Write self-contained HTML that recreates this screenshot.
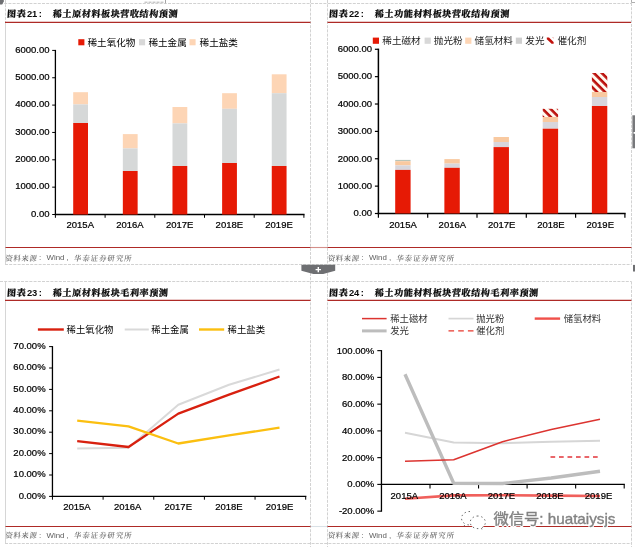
<!DOCTYPE html>
<html lang="zh"><head><meta charset="utf-8"><title>图表</title>
<style>html,body{margin:0;padding:0;background:#fff}svg{display:block}text{white-space:pre}</style></head>
<body>
<svg width="635" height="547" viewBox="0 0 635 547">
<defs><pattern id="hatch" width="5.6" height="5.6" patternUnits="userSpaceOnUse" patternTransform="rotate(45)"><rect width="5.6" height="5.6" fill="#fffaf0"/><rect width="5.6" height="2.6" fill="#bb100c"/></pattern></defs>
<rect x="0.00" y="0.00" width="635.00" height="547.00" fill="#fff" />
<line x1="5.50" y1="0.00" x2="5.50" y2="22.00" stroke="#d2d2d2" stroke-width="1" stroke-dasharray="3 1.2"/>
<line x1="5.50" y1="22.00" x2="5.50" y2="264.50" stroke="#d6d6d6" stroke-width="1" />
<line x1="5.50" y1="281.00" x2="5.50" y2="543.00" stroke="#d6d6d6" stroke-width="1" />
<line x1="310.50" y1="0.00" x2="310.50" y2="547.00" stroke="#d2d2d2" stroke-width="1" stroke-dasharray="3 1.2"/>
<line x1="327.50" y1="0.00" x2="327.50" y2="547.00" stroke="#d2d2d2" stroke-width="1" stroke-dasharray="3 1.2"/>
<line x1="631.50" y1="3.00" x2="631.50" y2="264.50" stroke="#d2d2d2" stroke-width="1" stroke-dasharray="3 1.2"/>
<line x1="631.50" y1="281.50" x2="631.50" y2="547.00" stroke="#d2d2d2" stroke-width="1" stroke-dasharray="3 1.2"/>
<line x1="0.00" y1="3.50" x2="631.50" y2="3.50" stroke="#d2d2d2" stroke-width="1" stroke-dasharray="3 1.2"/>
<line x1="5.00" y1="264.50" x2="631.50" y2="264.50" stroke="#d2d2d2" stroke-width="1" stroke-dasharray="3 1.2"/>
<line x1="0.00" y1="281.50" x2="631.50" y2="281.50" stroke="#d2d2d2" stroke-width="1" stroke-dasharray="3 1.2"/>
<line x1="5.00" y1="543.50" x2="631.50" y2="543.50" stroke="#d2d2d2" stroke-width="1" stroke-dasharray="3 1.2"/>
<path d="M631.5 0v2.500h3.500" fill="none" stroke="#9a9a9a" stroke-width="0.8"/>
<line x1="144.50" y1="2.20" x2="164.00" y2="2.20" stroke="#a8a8a8" stroke-width="0.9" stroke-dasharray="3 1"/>
<line x1="165.50" y1="0.00" x2="165.50" y2="3.30" stroke="#9a9a9a" stroke-width="0.9" />
<line x1="310.50" y1="247.50" x2="327.50" y2="247.50" stroke="#d48f8a" stroke-width="1.1" />
<line x1="310.50" y1="526.50" x2="327.50" y2="526.50" stroke="#d9e1e6" stroke-width="1.1" />
<g font-weight="bold" fill="#0a0a0a" font-family='"Liberation Serif","Noto Serif CJK SC",serif'>
<g transform="translate(6.8,16.8) skewX(-4)"><text x="0" y="0" font-weight="900" font-size="9.1" letter-spacing="0.5" stroke="#0a0a0a" stroke-width="0.2">图表</text></g>
<text x="26.9" y="16.7" font-size="9.4" font-family='"Liberation Sans","Noto Sans CJK SC",sans-serif'>21</text>
<text x="38.7" y="16.7" font-size="9.4" font-family='"Liberation Sans","Noto Sans CJK SC",sans-serif'>:</text>
<g transform="translate(52.6,16.8) skewX(-4)"><text x="0" y="0" font-weight="900" font-size="9.1" letter-spacing="0.54" stroke="#0a0a0a" stroke-width="0.2">稀土原材料板块营收结构预测</text></g>
</g>
<line x1="5.00" y1="22.30" x2="310.50" y2="22.30" stroke="#ae2a26" stroke-width="1.3" />
<line x1="5.50" y1="247.50" x2="310.50" y2="247.50" stroke="#ae2a26" stroke-width="1.15" />
<g fill="#5c5c5c" font-family='"Liberation Serif","Noto Serif CJK SC",serif' font-size="7.5" font-weight="500">
<g transform="translate(5.0,260.5) skewX(-8)"><text x="0" y="0" letter-spacing="0.48">资料来源</text></g>
<text x="38.9" y="260.2" font-family='"Liberation Sans","Noto Sans CJK SC",sans-serif' font-size="8">:</text>
<text x="46.5" y="260.2" font-family='"Liberation Sans","Noto Sans CJK SC",sans-serif' font-size="7.9">Wind</text>
<text x="66.5" y="260.2" font-family='"Liberation Sans","Noto Sans CJK SC",sans-serif' font-size="8">,</text>
<g transform="translate(73.5,260.5) skewX(-8)"><text x="0" y="0" letter-spacing="0.9">华泰证券研究所</text></g>
</g>
<rect x="78.30" y="39.20" width="6.10" height="6.10" fill="#e61a05" />
<text x="87.50" y="46.00" font-size="9.6" text-anchor="start" fill="#000" font-family='"Liberation Sans","Noto Sans CJK SC",sans-serif' >稀土氧化物</text>
<rect x="139.00" y="39.20" width="6.10" height="6.10" fill="#d8d8d8" />
<text x="148.40" y="46.00" font-size="9.6" text-anchor="start" fill="#000" font-family='"Liberation Sans","Noto Sans CJK SC",sans-serif' >稀土金属</text>
<rect x="189.50" y="39.20" width="6.10" height="6.10" fill="#fdd5b5" />
<text x="199.60" y="46.00" font-size="9.6" text-anchor="start" fill="#000" font-family='"Liberation Sans","Noto Sans CJK SC",sans-serif' >稀土盐类</text>
<line x1="52.20" y1="214.50" x2="55.40" y2="214.50" stroke="#000" stroke-width="1.0" />
<text x="49.50" y="216.80" font-size="9.5" text-anchor="end" fill="#000" font-family='"Liberation Sans","Noto Sans CJK SC",sans-serif'  stroke="#000" stroke-width="0.22">0.00</text>
<line x1="52.20" y1="187.15" x2="55.40" y2="187.15" stroke="#000" stroke-width="1.0" />
<text x="49.50" y="189.45" font-size="9.5" text-anchor="end" fill="#000" font-family='"Liberation Sans","Noto Sans CJK SC",sans-serif'  stroke="#000" stroke-width="0.22">1000.00</text>
<line x1="52.20" y1="159.80" x2="55.40" y2="159.80" stroke="#000" stroke-width="1.0" />
<text x="49.50" y="162.10" font-size="9.5" text-anchor="end" fill="#000" font-family='"Liberation Sans","Noto Sans CJK SC",sans-serif'  stroke="#000" stroke-width="0.22">2000.00</text>
<line x1="52.20" y1="132.45" x2="55.40" y2="132.45" stroke="#000" stroke-width="1.0" />
<text x="49.50" y="134.75" font-size="9.5" text-anchor="end" fill="#000" font-family='"Liberation Sans","Noto Sans CJK SC",sans-serif'  stroke="#000" stroke-width="0.22">3000.00</text>
<line x1="52.20" y1="105.10" x2="55.40" y2="105.10" stroke="#000" stroke-width="1.0" />
<text x="49.50" y="107.40" font-size="9.5" text-anchor="end" fill="#000" font-family='"Liberation Sans","Noto Sans CJK SC",sans-serif'  stroke="#000" stroke-width="0.22">4000.00</text>
<line x1="52.20" y1="77.75" x2="55.40" y2="77.75" stroke="#000" stroke-width="1.0" />
<text x="49.50" y="80.05" font-size="9.5" text-anchor="end" fill="#000" font-family='"Liberation Sans","Noto Sans CJK SC",sans-serif'  stroke="#000" stroke-width="0.22">5000.00</text>
<line x1="52.20" y1="50.40" x2="55.40" y2="50.40" stroke="#000" stroke-width="1.0" />
<text x="49.50" y="52.70" font-size="9.5" text-anchor="end" fill="#000" font-family='"Liberation Sans","Noto Sans CJK SC",sans-serif'  stroke="#000" stroke-width="0.22">6000.00</text>
<line x1="55.40" y1="49.90" x2="55.40" y2="215.00" stroke="#000" stroke-width="1.3" />
<line x1="54.75" y1="214.50" x2="304.55" y2="214.50" stroke="#000" stroke-width="1.3" />
<line x1="55.40" y1="214.50" x2="55.40" y2="217.80" stroke="#000" stroke-width="1.0" />
<line x1="105.10" y1="214.50" x2="105.10" y2="217.80" stroke="#000" stroke-width="1.0" />
<line x1="154.80" y1="214.50" x2="154.80" y2="217.80" stroke="#000" stroke-width="1.0" />
<line x1="204.50" y1="214.50" x2="204.50" y2="217.80" stroke="#000" stroke-width="1.0" />
<line x1="254.20" y1="214.50" x2="254.20" y2="217.80" stroke="#000" stroke-width="1.0" />
<line x1="303.90" y1="214.50" x2="303.90" y2="217.80" stroke="#000" stroke-width="1.0" />
<text x="80.25" y="228.00" font-size="9.5" text-anchor="middle" fill="#000" font-family='"Liberation Sans","Noto Sans CJK SC",sans-serif'  stroke="#000" stroke-width="0.22">2015A</text>
<text x="129.95" y="228.00" font-size="9.5" text-anchor="middle" fill="#000" font-family='"Liberation Sans","Noto Sans CJK SC",sans-serif'  stroke="#000" stroke-width="0.22">2016A</text>
<text x="179.65" y="228.00" font-size="9.5" text-anchor="middle" fill="#000" font-family='"Liberation Sans","Noto Sans CJK SC",sans-serif'  stroke="#000" stroke-width="0.22">2017E</text>
<text x="229.35" y="228.00" font-size="9.5" text-anchor="middle" fill="#000" font-family='"Liberation Sans","Noto Sans CJK SC",sans-serif'  stroke="#000" stroke-width="0.22">2018E</text>
<text x="279.05" y="228.00" font-size="9.5" text-anchor="middle" fill="#000" font-family='"Liberation Sans","Noto Sans CJK SC",sans-serif'  stroke="#000" stroke-width="0.22">2019E</text>
<rect x="73.20" y="92.20" width="14.80" height="12.20" fill="#fdd5b5" />
<rect x="73.20" y="104.40" width="14.80" height="18.60" fill="#d6d8d8" />
<rect x="73.20" y="123.00" width="14.80" height="91.50" fill="#e61a05" />
<rect x="122.84" y="134.10" width="14.80" height="14.30" fill="#fdd5b5" />
<rect x="122.84" y="148.40" width="14.80" height="22.60" fill="#d6d8d8" />
<rect x="122.84" y="171.00" width="14.80" height="43.50" fill="#e61a05" />
<rect x="172.48" y="107.00" width="14.80" height="16.40" fill="#fdd5b5" />
<rect x="172.48" y="123.40" width="14.80" height="42.60" fill="#d6d8d8" />
<rect x="172.48" y="166.00" width="14.80" height="48.50" fill="#e61a05" />
<rect x="222.12" y="93.20" width="14.80" height="15.60" fill="#fdd5b5" />
<rect x="222.12" y="108.80" width="14.80" height="54.20" fill="#d6d8d8" />
<rect x="222.12" y="163.00" width="14.80" height="51.50" fill="#e61a05" />
<rect x="271.76" y="74.30" width="14.80" height="18.90" fill="#fdd5b5" />
<rect x="271.76" y="93.20" width="14.80" height="72.80" fill="#d6d8d8" />
<rect x="271.76" y="166.00" width="14.80" height="48.50" fill="#e61a05" />
<g font-weight="bold" fill="#0a0a0a" font-family='"Liberation Serif","Noto Serif CJK SC",serif'>
<g transform="translate(328.8,16.8) skewX(-4)"><text x="0" y="0" font-weight="900" font-size="9.1" letter-spacing="0.5" stroke="#0a0a0a" stroke-width="0.2">图表</text></g>
<text x="348.9" y="16.7" font-size="9.4" font-family='"Liberation Sans","Noto Sans CJK SC",sans-serif'>22</text>
<text x="360.7" y="16.7" font-size="9.4" font-family='"Liberation Sans","Noto Sans CJK SC",sans-serif'>:</text>
<g transform="translate(374.6,16.8) skewX(-4)"><text x="0" y="0" font-weight="900" font-size="9.1" letter-spacing="0.54" stroke="#0a0a0a" stroke-width="0.2">稀土功能材料板块营收结构预测</text></g>
</g>
<line x1="327.50" y1="22.30" x2="631.00" y2="22.30" stroke="#ae2a26" stroke-width="1.3" />
<line x1="327.50" y1="247.50" x2="631.40" y2="247.50" stroke="#ae2a26" stroke-width="1.15" />
<g fill="#5c5c5c" font-family='"Liberation Serif","Noto Serif CJK SC",serif' font-size="7.5" font-weight="500">
<g transform="translate(327.40000000000003,260.5) skewX(-8)"><text x="0" y="0" letter-spacing="0.48">资料来源</text></g>
<text x="361.3" y="260.2" font-family='"Liberation Sans","Noto Sans CJK SC",sans-serif' font-size="8">:</text>
<text x="368.90000000000003" y="260.2" font-family='"Liberation Sans","Noto Sans CJK SC",sans-serif' font-size="7.9">Wind</text>
<text x="388.90000000000003" y="260.2" font-family='"Liberation Sans","Noto Sans CJK SC",sans-serif' font-size="8">,</text>
<g transform="translate(395.9,260.5) skewX(-8)"><text x="0" y="0" letter-spacing="0.9">华泰证券研究所</text></g>
</g>
<rect x="372.80" y="37.60" width="6.20" height="6.20" fill="#e61a05" />
<text x="382.30" y="44.00" font-size="9.6" text-anchor="start" fill="#222" font-family='"Liberation Sans","Noto Sans CJK SC",sans-serif' >稀土磁材</text>
<rect x="424.60" y="37.60" width="6.20" height="6.20" fill="#d8d8d8" />
<text x="433.80" y="44.00" font-size="9.6" text-anchor="start" fill="#222" font-family='"Liberation Sans","Noto Sans CJK SC",sans-serif' >抛光粉</text>
<rect x="465.20" y="37.60" width="6.20" height="6.20" fill="#fdd5b5" />
<text x="474.60" y="44.00" font-size="9.6" text-anchor="start" fill="#222" font-family='"Liberation Sans","Noto Sans CJK SC",sans-serif' >储氢材料</text>
<rect x="515.80" y="37.60" width="6.20" height="6.20" fill="#cfcfcf" />
<text x="525.30" y="44.00" font-size="9.6" text-anchor="start" fill="#222" font-family='"Liberation Sans","Noto Sans CJK SC",sans-serif' >发光</text>
<path d="M546.8 37.600l2.200 0 4.600 4.400 0 1.800-2 0-4.800-4.600z" fill="#c1120c"/><path d="M552 37.300l1.600 0 0 1.500z" fill="#e9a09a"/>
<text x="557.50" y="44.00" font-size="9.6" text-anchor="start" fill="#222" font-family='"Liberation Sans","Noto Sans CJK SC",sans-serif' >催化剂</text>
<line x1="374.90" y1="213.50" x2="378.40" y2="213.50" stroke="#000" stroke-width="1.2" />
<text x="372.00" y="216.30" font-size="9.5" text-anchor="end" fill="#000" font-family='"Liberation Sans","Noto Sans CJK SC",sans-serif'  stroke="#000" stroke-width="0.22">0.00</text>
<line x1="374.90" y1="186.13" x2="378.40" y2="186.13" stroke="#000" stroke-width="1.2" />
<text x="372.00" y="188.93" font-size="9.5" text-anchor="end" fill="#000" font-family='"Liberation Sans","Noto Sans CJK SC",sans-serif'  stroke="#000" stroke-width="0.22">1000.00</text>
<line x1="374.90" y1="158.76" x2="378.40" y2="158.76" stroke="#000" stroke-width="1.2" />
<text x="372.00" y="161.56" font-size="9.5" text-anchor="end" fill="#000" font-family='"Liberation Sans","Noto Sans CJK SC",sans-serif'  stroke="#000" stroke-width="0.22">2000.00</text>
<line x1="374.90" y1="131.39" x2="378.40" y2="131.39" stroke="#000" stroke-width="1.2" />
<text x="372.00" y="134.19" font-size="9.5" text-anchor="end" fill="#000" font-family='"Liberation Sans","Noto Sans CJK SC",sans-serif'  stroke="#000" stroke-width="0.22">3000.00</text>
<line x1="374.90" y1="104.02" x2="378.40" y2="104.02" stroke="#000" stroke-width="1.2" />
<text x="372.00" y="106.82" font-size="9.5" text-anchor="end" fill="#000" font-family='"Liberation Sans","Noto Sans CJK SC",sans-serif'  stroke="#000" stroke-width="0.22">4000.00</text>
<line x1="374.90" y1="76.65" x2="378.40" y2="76.65" stroke="#000" stroke-width="1.2" />
<text x="372.00" y="79.45" font-size="9.5" text-anchor="end" fill="#000" font-family='"Liberation Sans","Noto Sans CJK SC",sans-serif'  stroke="#000" stroke-width="0.22">5000.00</text>
<line x1="374.90" y1="49.28" x2="378.40" y2="49.28" stroke="#000" stroke-width="1.2" />
<text x="372.00" y="52.08" font-size="9.5" text-anchor="end" fill="#000" font-family='"Liberation Sans","Noto Sans CJK SC",sans-serif'  stroke="#000" stroke-width="0.22">6000.00</text>
<line x1="378.40" y1="48.68" x2="378.40" y2="214.10" stroke="#000" stroke-width="1.5" />
<line x1="377.65" y1="213.50" x2="625.65" y2="213.50" stroke="#000" stroke-width="1.5" />
<line x1="378.40" y1="213.50" x2="378.40" y2="217.80" stroke="#000" stroke-width="1.2" />
<line x1="427.70" y1="213.50" x2="427.70" y2="217.80" stroke="#000" stroke-width="1.2" />
<line x1="477.00" y1="213.50" x2="477.00" y2="217.80" stroke="#000" stroke-width="1.2" />
<line x1="526.30" y1="213.50" x2="526.30" y2="217.80" stroke="#000" stroke-width="1.2" />
<line x1="575.60" y1="213.50" x2="575.60" y2="217.80" stroke="#000" stroke-width="1.2" />
<line x1="624.90" y1="213.50" x2="624.90" y2="217.80" stroke="#000" stroke-width="1.2" />
<text x="403.05" y="228.10" font-size="9.5" text-anchor="middle" fill="#000" font-family='"Liberation Sans","Noto Sans CJK SC",sans-serif'  stroke="#000" stroke-width="0.22">2015A</text>
<text x="452.35" y="228.10" font-size="9.5" text-anchor="middle" fill="#000" font-family='"Liberation Sans","Noto Sans CJK SC",sans-serif'  stroke="#000" stroke-width="0.22">2016A</text>
<text x="501.65" y="228.10" font-size="9.5" text-anchor="middle" fill="#000" font-family='"Liberation Sans","Noto Sans CJK SC",sans-serif'  stroke="#000" stroke-width="0.22">2017E</text>
<text x="550.95" y="228.10" font-size="9.5" text-anchor="middle" fill="#000" font-family='"Liberation Sans","Noto Sans CJK SC",sans-serif'  stroke="#000" stroke-width="0.22">2018E</text>
<text x="600.25" y="228.10" font-size="9.5" text-anchor="middle" fill="#000" font-family='"Liberation Sans","Noto Sans CJK SC",sans-serif'  stroke="#000" stroke-width="0.22">2019E</text>
<rect x="395.20" y="159.90" width="15.40" height="1.30" fill="#b9c4b8" />
<rect x="395.20" y="161.20" width="15.40" height="4.20" fill="#f9c9a0" />
<rect x="395.20" y="165.40" width="15.40" height="4.50" fill="#d8d6dc" />
<rect x="395.20" y="169.90" width="15.40" height="43.60" fill="#e61a05" />
<rect x="444.37" y="159.10" width="15.40" height="4.50" fill="#f9c9a0" />
<rect x="444.37" y="163.60" width="15.40" height="4.20" fill="#d8d6dc" />
<rect x="444.37" y="167.80" width="15.40" height="45.70" fill="#e61a05" />
<rect x="493.54" y="137.00" width="15.40" height="5.00" fill="#f9c9a0" />
<rect x="493.54" y="142.00" width="15.40" height="5.10" fill="#d8d6dc" />
<rect x="493.54" y="147.10" width="15.40" height="66.40" fill="#e61a05" />
<rect x="542.71" y="108.80" width="15.40" height="8.20" fill="url(#hatch)" />
<rect x="542.71" y="117.00" width="15.40" height="5.00" fill="#f9c9a0" />
<rect x="542.71" y="122.00" width="15.40" height="6.70" fill="#d8d6dc" />
<rect x="542.71" y="128.70" width="15.40" height="84.80" fill="#e61a05" />
<rect x="591.88" y="73.00" width="15.40" height="19.00" fill="url(#hatch)" />
<rect x="591.88" y="92.00" width="15.40" height="5.00" fill="#f9c9a0" />
<rect x="591.88" y="97.00" width="15.40" height="9.00" fill="#d8d6dc" />
<rect x="591.88" y="106.00" width="15.40" height="107.50" fill="#e61a05" />
<g font-weight="bold" fill="#0a0a0a" font-family='"Liberation Serif","Noto Serif CJK SC",serif'>
<g transform="translate(6.8,295.6) skewX(-4)"><text x="0" y="0" font-weight="900" font-size="9.1" letter-spacing="0.5" stroke="#0a0a0a" stroke-width="0.2">图表</text></g>
<text x="26.9" y="295.5" font-size="9.4" font-family='"Liberation Sans","Noto Sans CJK SC",sans-serif'>23</text>
<text x="38.7" y="295.5" font-size="9.4" font-family='"Liberation Sans","Noto Sans CJK SC",sans-serif'>:</text>
<g transform="translate(52.6,295.6) skewX(-4)"><text x="0" y="0" font-weight="900" font-size="9.1" letter-spacing="0.54" stroke="#0a0a0a" stroke-width="0.2">稀土原材料板块毛利率预测</text></g>
</g>
<line x1="5.00" y1="300.40" x2="310.50" y2="300.40" stroke="#ae2a26" stroke-width="1.3" />
<line x1="5.50" y1="526.50" x2="310.50" y2="526.50" stroke="#ae2a26" stroke-width="1.15" />
<g fill="#5c5c5c" font-family='"Liberation Serif","Noto Serif CJK SC",serif' font-size="7.5" font-weight="500">
<g transform="translate(5.0,538.3) skewX(-8)"><text x="0" y="0" letter-spacing="0.48">资料来源</text></g>
<text x="38.9" y="538.0" font-family='"Liberation Sans","Noto Sans CJK SC",sans-serif' font-size="8">:</text>
<text x="46.5" y="538.0" font-family='"Liberation Sans","Noto Sans CJK SC",sans-serif' font-size="7.9">Wind</text>
<text x="66.5" y="538.0" font-family='"Liberation Sans","Noto Sans CJK SC",sans-serif' font-size="8">,</text>
<g transform="translate(73.5,538.3) skewX(-8)"><text x="0" y="0" letter-spacing="0.9">华泰证券研究所</text></g>
</g>
<line x1="37.90" y1="329.50" x2="63.80" y2="329.50" stroke="#d8200f" stroke-width="2.4" />
<text x="66.60" y="333.20" font-size="9.4" text-anchor="start" fill="#000" font-family='"Liberation Sans","Noto Sans CJK SC",sans-serif' >稀土氧化物</text>
<line x1="124.70" y1="329.50" x2="148.80" y2="329.50" stroke="#d9d9d9" stroke-width="2" />
<text x="151.30" y="333.20" font-size="9.4" text-anchor="start" fill="#000" font-family='"Liberation Sans","Noto Sans CJK SC",sans-serif' >稀土金属</text>
<line x1="199.00" y1="329.50" x2="224.20" y2="329.50" stroke="#fbbf10" stroke-width="2.4" />
<text x="227.50" y="333.20" font-size="9.4" text-anchor="start" fill="#000" font-family='"Liberation Sans","Noto Sans CJK SC",sans-serif' >稀土盐类</text>
<line x1="49.10" y1="496.40" x2="52.45" y2="496.40" stroke="#000" stroke-width="1.0" />
<text x="45.60" y="498.50" font-size="9.5" text-anchor="end" fill="#000" font-family='"Liberation Sans","Noto Sans CJK SC",sans-serif'  stroke="#000" stroke-width="0.22">0.00%</text>
<line x1="49.10" y1="475.00" x2="52.45" y2="475.00" stroke="#000" stroke-width="1.0" />
<text x="45.60" y="477.10" font-size="9.5" text-anchor="end" fill="#000" font-family='"Liberation Sans","Noto Sans CJK SC",sans-serif'  stroke="#000" stroke-width="0.22">10.00%</text>
<line x1="49.10" y1="453.60" x2="52.45" y2="453.60" stroke="#000" stroke-width="1.0" />
<text x="45.60" y="455.70" font-size="9.5" text-anchor="end" fill="#000" font-family='"Liberation Sans","Noto Sans CJK SC",sans-serif'  stroke="#000" stroke-width="0.22">20.00%</text>
<line x1="49.10" y1="432.20" x2="52.45" y2="432.20" stroke="#000" stroke-width="1.0" />
<text x="45.60" y="434.30" font-size="9.5" text-anchor="end" fill="#000" font-family='"Liberation Sans","Noto Sans CJK SC",sans-serif'  stroke="#000" stroke-width="0.22">30.00%</text>
<line x1="49.10" y1="410.80" x2="52.45" y2="410.80" stroke="#000" stroke-width="1.0" />
<text x="45.60" y="412.90" font-size="9.5" text-anchor="end" fill="#000" font-family='"Liberation Sans","Noto Sans CJK SC",sans-serif'  stroke="#000" stroke-width="0.22">40.00%</text>
<line x1="49.10" y1="389.40" x2="52.45" y2="389.40" stroke="#000" stroke-width="1.0" />
<text x="45.60" y="391.50" font-size="9.5" text-anchor="end" fill="#000" font-family='"Liberation Sans","Noto Sans CJK SC",sans-serif'  stroke="#000" stroke-width="0.22">50.00%</text>
<line x1="49.10" y1="368.00" x2="52.45" y2="368.00" stroke="#000" stroke-width="1.0" />
<text x="45.60" y="370.10" font-size="9.5" text-anchor="end" fill="#000" font-family='"Liberation Sans","Noto Sans CJK SC",sans-serif'  stroke="#000" stroke-width="0.22">60.00%</text>
<line x1="49.10" y1="346.60" x2="52.45" y2="346.60" stroke="#000" stroke-width="1.0" />
<text x="45.60" y="348.70" font-size="9.5" text-anchor="end" fill="#000" font-family='"Liberation Sans","Noto Sans CJK SC",sans-serif'  stroke="#000" stroke-width="0.22">70.00%</text>
<line x1="52.45" y1="346.10" x2="52.45" y2="496.90" stroke="#000" stroke-width="1.3" />
<line x1="51.80" y1="496.40" x2="306.35" y2="496.40" stroke="#000" stroke-width="1.3" />
<line x1="52.45" y1="496.40" x2="52.45" y2="499.70" stroke="#000" stroke-width="1.0" />
<line x1="103.10" y1="496.40" x2="103.10" y2="499.70" stroke="#000" stroke-width="1.0" />
<line x1="153.75" y1="496.40" x2="153.75" y2="499.70" stroke="#000" stroke-width="1.0" />
<line x1="204.40" y1="496.40" x2="204.40" y2="499.70" stroke="#000" stroke-width="1.0" />
<line x1="255.05" y1="496.40" x2="255.05" y2="499.70" stroke="#000" stroke-width="1.0" />
<line x1="305.70" y1="496.40" x2="305.70" y2="499.70" stroke="#000" stroke-width="1.0" />
<text x="76.98" y="509.80" font-size="9.5" text-anchor="middle" fill="#000" font-family='"Liberation Sans","Noto Sans CJK SC",sans-serif'  stroke="#000" stroke-width="0.22">2015A</text>
<text x="127.63" y="509.80" font-size="9.5" text-anchor="middle" fill="#000" font-family='"Liberation Sans","Noto Sans CJK SC",sans-serif'  stroke="#000" stroke-width="0.22">2016A</text>
<text x="178.27" y="509.80" font-size="9.5" text-anchor="middle" fill="#000" font-family='"Liberation Sans","Noto Sans CJK SC",sans-serif'  stroke="#000" stroke-width="0.22">2017E</text>
<text x="228.93" y="509.80" font-size="9.5" text-anchor="middle" fill="#000" font-family='"Liberation Sans","Noto Sans CJK SC",sans-serif'  stroke="#000" stroke-width="0.22">2018E</text>
<text x="279.57" y="509.80" font-size="9.5" text-anchor="middle" fill="#000" font-family='"Liberation Sans","Noto Sans CJK SC",sans-serif'  stroke="#000" stroke-width="0.22">2019E</text>
<polyline points="77.2,448.4 128.5,447.8 178.3,404.7 229.0,384.8 279.5,369.5" fill="none" stroke="#d9d9d9" stroke-width="2" stroke-linejoin="round" stroke-linecap="butt" />
<polyline points="77.2,441.1 128.5,447.0 178.3,413.6 229.0,394.7 279.5,376.5" fill="none" stroke="#d8200f" stroke-width="2.3" stroke-linejoin="round" stroke-linecap="butt" />
<polyline points="77.2,420.7 128.5,426.3 178.3,443.5 229.0,435.4 279.5,427.7" fill="none" stroke="#fbbf10" stroke-width="2.3" stroke-linejoin="round" stroke-linecap="butt" />
<g font-weight="bold" fill="#0a0a0a" font-family='"Liberation Serif","Noto Serif CJK SC",serif'>
<g transform="translate(328.8,295.6) skewX(-4)"><text x="0" y="0" font-weight="900" font-size="9.1" letter-spacing="0.5" stroke="#0a0a0a" stroke-width="0.2">图表</text></g>
<text x="348.9" y="295.5" font-size="9.4" font-family='"Liberation Sans","Noto Sans CJK SC",sans-serif'>24</text>
<text x="360.7" y="295.5" font-size="9.4" font-family='"Liberation Sans","Noto Sans CJK SC",sans-serif'>:</text>
<g transform="translate(374.6,295.6) skewX(-4)"><text x="0" y="0" font-weight="900" font-size="9.1" letter-spacing="0.54" stroke="#0a0a0a" stroke-width="0.2">稀土功能材料板块营收结构毛利率预测</text></g>
</g>
<line x1="327.50" y1="300.40" x2="631.40" y2="300.40" stroke="#ae2a26" stroke-width="1.3" />
<line x1="327.50" y1="526.50" x2="631.40" y2="526.50" stroke="#ae2a26" stroke-width="1.15" />
<g fill="#5c5c5c" font-family='"Liberation Serif","Noto Serif CJK SC",serif' font-size="7.5" font-weight="500">
<g transform="translate(327.40000000000003,538.3) skewX(-8)"><text x="0" y="0" letter-spacing="0.48">资料来源</text></g>
<text x="361.3" y="538.0" font-family='"Liberation Sans","Noto Sans CJK SC",sans-serif' font-size="8">:</text>
<text x="368.90000000000003" y="538.0" font-family='"Liberation Sans","Noto Sans CJK SC",sans-serif' font-size="7.9">Wind</text>
<text x="388.90000000000003" y="538.0" font-family='"Liberation Sans","Noto Sans CJK SC",sans-serif' font-size="8">,</text>
<g transform="translate(395.9,538.3) skewX(-8)"><text x="0" y="0" letter-spacing="0.9">华泰证券研究所</text></g>
</g>
<line x1="362.00" y1="318.60" x2="386.60" y2="318.60" stroke="#dc3430" stroke-width="1.5" />
<text x="390.20" y="322.00" font-size="9.4" text-anchor="start" fill="#333" font-family='"Liberation Sans","Noto Sans CJK SC",sans-serif' >稀土磁材</text>
<line x1="448.50" y1="318.60" x2="473.50" y2="318.60" stroke="#d6d6d6" stroke-width="1.7" />
<text x="476.20" y="322.00" font-size="9.4" text-anchor="start" fill="#333" font-family='"Liberation Sans","Noto Sans CJK SC",sans-serif' >抛光粉</text>
<line x1="534.70" y1="318.60" x2="560.10" y2="318.60" stroke="#f0504a" stroke-width="2.4" />
<text x="563.70" y="322.00" font-size="9.4" text-anchor="start" fill="#333" font-family='"Liberation Sans","Noto Sans CJK SC",sans-serif' >储氢材料</text>
<line x1="362.00" y1="330.90" x2="386.60" y2="330.90" stroke="#bdbdbd" stroke-width="3.0" />
<text x="390.20" y="334.20" font-size="9.4" text-anchor="start" fill="#333" font-family='"Liberation Sans","Noto Sans CJK SC",sans-serif' >发光</text>
<line x1="448.50" y1="330.90" x2="473.50" y2="330.90" stroke="#e8392e" stroke-width="1.4" stroke-dasharray="5.6 4.1"/>
<text x="476.20" y="334.20" font-size="9.4" text-anchor="start" fill="#333" font-family='"Liberation Sans","Noto Sans CJK SC",sans-serif' >催化剂</text>
<line x1="377.30" y1="511.15" x2="381.45" y2="511.15" stroke="#000" stroke-width="1.1" />
<text x="374.30" y="514.05" font-size="9.5" text-anchor="end" fill="#000" font-family='"Liberation Sans","Noto Sans CJK SC",sans-serif'  stroke="#000" stroke-width="0.22">-20.00%</text>
<line x1="377.30" y1="484.40" x2="381.45" y2="484.40" stroke="#000" stroke-width="1.1" />
<text x="374.30" y="487.30" font-size="9.5" text-anchor="end" fill="#000" font-family='"Liberation Sans","Noto Sans CJK SC",sans-serif'  stroke="#000" stroke-width="0.22">0.00%</text>
<line x1="377.30" y1="457.65" x2="381.45" y2="457.65" stroke="#000" stroke-width="1.1" />
<text x="374.30" y="460.55" font-size="9.5" text-anchor="end" fill="#000" font-family='"Liberation Sans","Noto Sans CJK SC",sans-serif'  stroke="#000" stroke-width="0.22">20.00%</text>
<line x1="377.30" y1="430.90" x2="381.45" y2="430.90" stroke="#000" stroke-width="1.1" />
<text x="374.30" y="433.80" font-size="9.5" text-anchor="end" fill="#000" font-family='"Liberation Sans","Noto Sans CJK SC",sans-serif'  stroke="#000" stroke-width="0.22">40.00%</text>
<line x1="377.30" y1="404.15" x2="381.45" y2="404.15" stroke="#000" stroke-width="1.1" />
<text x="374.30" y="407.05" font-size="9.5" text-anchor="end" fill="#000" font-family='"Liberation Sans","Noto Sans CJK SC",sans-serif'  stroke="#000" stroke-width="0.22">60.00%</text>
<line x1="377.30" y1="377.40" x2="381.45" y2="377.40" stroke="#000" stroke-width="1.1" />
<text x="374.30" y="380.30" font-size="9.5" text-anchor="end" fill="#000" font-family='"Liberation Sans","Noto Sans CJK SC",sans-serif'  stroke="#000" stroke-width="0.22">80.00%</text>
<line x1="377.30" y1="350.65" x2="381.45" y2="350.65" stroke="#000" stroke-width="1.1" />
<text x="374.30" y="353.55" font-size="9.5" text-anchor="end" fill="#000" font-family='"Liberation Sans","Noto Sans CJK SC",sans-serif'  stroke="#000" stroke-width="0.22">100.00%</text>
<line x1="381.45" y1="350.10" x2="381.45" y2="511.70" stroke="#000" stroke-width="1.3" />
<line x1="380.80" y1="484.40" x2="624.85" y2="484.40" stroke="#000" stroke-width="1.3" />
<line x1="430.00" y1="484.40" x2="430.00" y2="488.60" stroke="#000" stroke-width="1.1" />
<line x1="478.55" y1="484.40" x2="478.55" y2="488.60" stroke="#000" stroke-width="1.1" />
<line x1="527.10" y1="484.40" x2="527.10" y2="488.60" stroke="#000" stroke-width="1.1" />
<line x1="575.65" y1="484.40" x2="575.65" y2="488.60" stroke="#000" stroke-width="1.1" />
<line x1="624.20" y1="484.40" x2="624.20" y2="488.60" stroke="#000" stroke-width="1.1" />
<polyline points="405.0,498.7 453.7,495.4 502.5,495.2 551.2,495.6 600.0,496.0" fill="none" stroke="#f0605c" stroke-width="2.6" stroke-linejoin="round" stroke-linecap="butt" />
<text x="404.33" y="498.80" font-size="9.5" text-anchor="middle" fill="#000" font-family='"Liberation Sans","Noto Sans CJK SC",sans-serif'  stroke="#000" stroke-width="0.22">2015A</text>
<text x="452.88" y="498.80" font-size="9.5" text-anchor="middle" fill="#000" font-family='"Liberation Sans","Noto Sans CJK SC",sans-serif'  stroke="#000" stroke-width="0.22">2016A</text>
<text x="501.43" y="498.80" font-size="9.5" text-anchor="middle" fill="#000" font-family='"Liberation Sans","Noto Sans CJK SC",sans-serif'  stroke="#000" stroke-width="0.22">2017E</text>
<text x="549.98" y="498.80" font-size="9.5" text-anchor="middle" fill="#000" font-family='"Liberation Sans","Noto Sans CJK SC",sans-serif'  stroke="#000" stroke-width="0.22">2018E</text>
<text x="598.53" y="498.80" font-size="9.5" text-anchor="middle" fill="#000" font-family='"Liberation Sans","Noto Sans CJK SC",sans-serif'  stroke="#000" stroke-width="0.22">2019E</text>
<polyline points="405.0,432.8 453.7,442.5 502.5,443.2 551.2,441.7 600.0,440.8" fill="none" stroke="#d6d6d6" stroke-width="1.9" stroke-linejoin="round" stroke-linecap="butt" />
<polyline points="405.0,374.3 453.7,483.3 502.5,483.5 551.2,478.0 600.0,471.2" fill="none" stroke="#bdbdbd" stroke-width="3.4" stroke-linejoin="round" stroke-linecap="butt" />
<polyline points="405.0,461.3 453.7,459.7 502.5,441.7 551.2,429.6 600.0,419.2" fill="none" stroke="#dc3430" stroke-width="1.5" stroke-linejoin="round" stroke-linecap="butt" />
<line x1="550.50" y1="456.90" x2="597.80" y2="456.90" stroke="#e2343a" stroke-width="1.5" stroke-dasharray="4.7 3.8"/>
<g fill="#fff" stroke="#5a5a5a" stroke-width="0.9" stroke-dasharray="1.4 2.8"><path d="M470 511.5c-5 0-8.5 3-8.500 6.800c0 2.200 1.200 4 3 5.200l-0.800 2.600 3-1.600c1 0.300 2.100 0.500 3.300 0.500"/><path d="M478 516c-4.400 0-7.800 2.800-7.800 6.300s3.400 6.300 7.800 6.300c0.900 0 1.800-0.100 2.600-0.400l2.500 1.400-0.700-2.200c1.800-1.200 3-3 3-5.100c0-3.500-3.500-6.300-7.400-6.300z"/></g>
<g font-size="14.6" font-family='"Liberation Sans","Noto Sans CJK SC",sans-serif'><text x="493.5" y="524" fill="#fff" stroke="#ffffff" stroke-width="2.4" stroke-linejoin="round" textLength="122" lengthAdjust="spacingAndGlyphs">微信号: huataiysjs</text><text x="493.5" y="524" fill="#828282" stroke="#828282" stroke-width="0.35" textLength="122" lengthAdjust="spacingAndGlyphs">微信号: huataiysjs</text></g>
<path d="M301.4 264.8h33.800v6l-12 3.300h-9.800l-12-3.300z" fill="#6e6f72"/>
<path d="M315.6 269.600h5.400M318.300 266.900v5.400" stroke="#fff" stroke-width="1.4"/>
<rect x="632.40" y="115.30" width="2.60" height="33.00" fill="#77787b" />
<rect x="633.60" y="132.00" width="1.40" height="1.80" fill="#fff" />
<rect x="633.00" y="264.90" width="2.00" height="6.60" fill="#6e6f72" />
<path d="M0 0h3.8v1.500l-1.600 3h-2.200z" fill="#6e6f72"/>
</svg>
</body></html>
